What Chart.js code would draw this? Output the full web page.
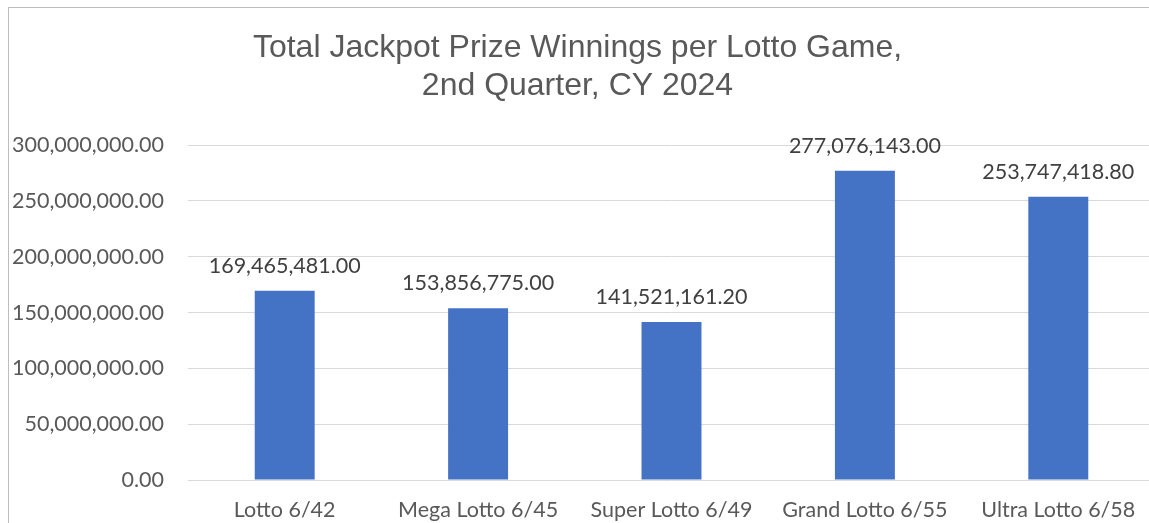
<!DOCTYPE html>
<html>
<head>
<meta charset="utf-8">
<script src="https://cdn.jsdelivr.net/npm/chart.js@4.4.1/dist/chart.umd.min.js"></script>
<style>
  html, body { margin: 0; padding: 0; background: #fff; overflow: hidden; }
  #frame { position: absolute; left: 8px; top: 7px; width: 1160px; height: 540px; border: 1px solid #bdbdbd; }
  #wrap { position: absolute; left: 0; top: 0; width: 1160px; height: 523px; }
</style>
</head>
<body>
<div id="frame"></div>
<div id="wrap"><canvas id="myChart"></canvas></div>
<script>
// lotto games and their jackpot totals (PHP)
var games = ["Lotto 6/42", "Mega Lotto 6/45", "Super Lotto 6/49", "Grand Lotto 6/55", "Ultra Lotto 6/58"];
var jackpots = [169465481.00, 153856775.00, 141521161.20, 277076143.00, 253747418.80];
var yTicks = [0, 50000000, 100000000, 150000000, 200000000, 250000000, 300000000];
var titleLines = ["Total Jackpot Prize Winnings per Lotto Game,", "2nd Quarter, CY 2024"];

function money(v) {
  return v.toLocaleString("en-US", { minimumFractionDigits: 2, maximumFractionDigits: 2 });
}

// draws the value above each bar
const barLabels = {
  id: "barLabels",
  afterDatasetsDraw(chart) {
    const ctx = chart.ctx;
    const meta = chart.getDatasetMeta(0);
    ctx.save();
    ctx.font = "21.5px Lato";
    ctx.fillStyle = "#404040";
    ctx.textAlign = "center";
    ctx.textBaseline = "middle";
    meta.data.forEach(function (bar, i) {
      ctx.fillText(money(jackpots[i]), bar.x, bar.y - 25);
    });
    ctx.restore();
  }
};

const ctx = document.getElementById("myChart");
let chrt = new Chart(ctx, {
  type: "bar",
  data: {
    labels: games,
    datasets: [{
      label: "Jackpot",
      data: jackpots,
      backgroundColor: "#4472C4",
      barPercentage: 1,
      categoryPercentage: 0.31
    }]
  },
  options: {
    responsive: true,
    maintainAspectRatio: false,
    animation: false,
    layout: { padding: { left: 0, right: 5, top: 0, bottom: 0 } },
    plugins: {
      legend: { display: false },
      tooltip: { enabled: false },
      title: {
        display: true,
        text: titleLines,
        color: "#595959",
        font: { family: "Liberation Sans", size: 32, weight: "normal", lineHeight: 1.19 },
        padding: { top: 29, bottom: 40 }
      }
    },
    scales: {
      x: {
        grid: { display: false },
        border: { display: false },
        ticks: { color: "#595959", font: { family: "Lato", size: 21.5 }, padding: 9, maxRotation: 0 },
        afterFit: function (s) { s.height = 43; }
      },
      y: {
        min: 0,
        max: 300000000,
        afterBuildTicks: function (s) { s.ticks = yTicks.map(function (v) { return { value: v }; }); },
        grid: { color: "#d9d9d9", lineWidth: 1, drawTicks: false },
        border: { display: false },
        ticks: {
          color: "#595959",
          font: { family: "Lato", size: 21.5 },
          padding: 24,
          callback: function (v) { return money(v); }
        },
        afterFit: function (s) { s.width = 188; }
      }
    }
  },
  plugins: [barLabels]
});
</script>
</body>
</html>
